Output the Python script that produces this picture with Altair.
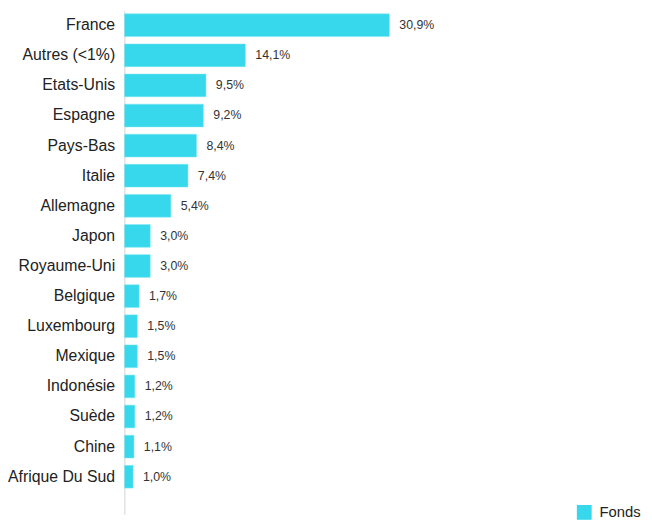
import altair as alt
import pandas as pd

countries = ["France", "Autres (<1%)", "Etats-Unis", "Espagne", "Pays-Bas", "Italie",
             "Allemagne", "Japon", "Royaume-Uni", "Belgique", "Luxembourg", "Mexique",
             "Indonésie", "Suède", "Chine", "Afrique Du Sud"]
values = [30.9, 14.1, 9.5, 9.2, 8.4, 7.4, 5.4, 3.0, 3.0, 1.7, 1.5, 1.5, 1.2, 1.2, 1.1, 1.0]
series = "Fonds"

df = pd.DataFrame({"pays": countries, "valeur": values})
df["serie"] = series
df["label"] = [f"{v:.1f}".replace(".", ",") + "%" for v in values]

FONT = "Liberation Sans"
W = 526
H = 505
k = 8.68  # px per percent
xmax = W / k

y_enc = alt.Y("pays:N", sort=countries,
              scale=alt.Scale(range=[2.7, 482.9], paddingInner=0.245, paddingOuter=0,
                              round=False),
              axis=alt.Axis(title=None, ticks=False, labelFontSize=16, labelColor="#222",
                            labelFont=FONT, labelPadding=10, domain=False, grid=False))
x_enc = alt.X("valeur:Q", scale=alt.Scale(domain=[0, xmax], nice=False, zero=True), axis=None)

axis_line = alt.Chart(df).mark_rule(color="#e6e6e6", strokeWidth=1).encode(
    x=alt.value(0), y=alt.value(0), y2=alt.value(510)
)

bars = alt.Chart(df).mark_bar(stroke="#7fe6f2", strokeWidth=0.5).encode(
    x=x_enc,
    y=y_enc,
    color=alt.Color("serie:N", scale=alt.Scale(domain=[series], range=["#37D8EC"]),
                    legend=alt.Legend(title=None, orient="none", legendX=458, legendY=500,
                                      symbolType="square", symbolSize=225,
                                      symbolStrokeWidth=0, labelFontSize=15,
                                      labelFont=FONT, labelColor="#222", labelOffset=8)),
)

text = alt.Chart(df).mark_text(align="left", baseline="middle", dx=10, fontSize=12.5,
                               font=FONT, color="#333").encode(
    x=x_enc,
    y=alt.Y("pays:N", sort=countries),
    text="label:N",
)

chart = (axis_line + bars + text).properties(
    width=W, height=H,
    autosize=alt.AutoSizeParams(type="none"),
    padding={"left": 118, "top": 0, "right": 0, "bottom": 8},
).configure(font=FONT).configure_view(stroke=None, strokeWidth=0)

chart.save("out.html", embed_options={"renderer": "svg", "actions": False})
